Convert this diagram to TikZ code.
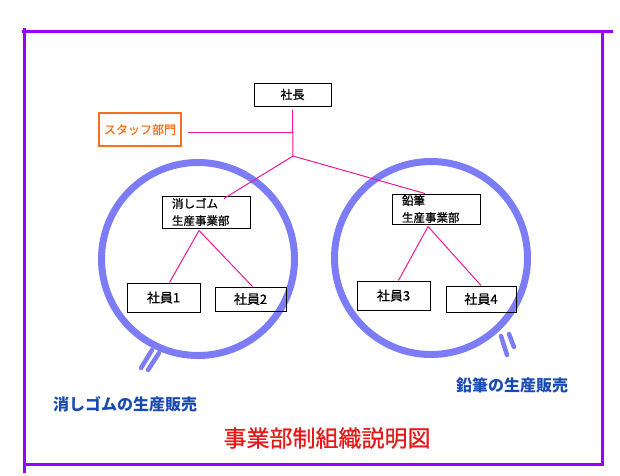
\documentclass[tikz,border=0pt]{standalone}
\usepackage{fontspec}
\setmainfont{Noto Sans CJK JP}
\newfontfamily\halbfett{Noto Sans CJK JP}[FakeBold=0.8]
\usetikzlibrary{positioning}

\definecolor{rahmenlila}{HTML}{9A00FF}
\definecolor{kreisblau}{HTML}{7C7CF6}
\definecolor{linienpink}{HTML}{EC1A94}
\definecolor{stabsorange}{HTML}{F2701E}
\definecolor{textblau}{HTML}{1A4BB0}
\definecolor{titelrot}{HTML}{E41A1A}

\begin{document}
\begin{tikzpicture}[x=1pt,y=-1pt,
		posten/.style={draw=black, line width=1pt, inner sep=0pt, font=\fontsize{12}{14}\selectfont\halbfett},
		abteilung/.style={posten, text width=68pt, inner xsep=10pt, align=left, font=\fontsize{11.5}{17}\selectfont\halbfett},
		verbindung/.style={draw=linienpink, line width=1pt},
		rahmen/.style={draw=rahmenlila, line width=3pt},
		ring/.style={draw=kreisblau, line width=7pt},
		griff/.style={draw=kreisblau, line width=4.5pt, line cap=round},
		bereich/.style={text=textblau, font=\fontsize{16}{18}\selectfont\bfseries}]
	\useasboundingbox (0,0) rectangle (620,475);

	% Rahmen
	\draw[rahmen] (22,31) -- (613,31);
	\draw[rahmen] (24,28) -- (24,473);
	\draw[rahmen] (602,31) -- (602,464);
	\draw[rahmen] (24,464) -- (604,464);

	% Kreise
	\draw[ring] (198,259) circle (96.5);
	\draw[ring] (431,258) circle (96.5);
	\draw[griff] (152,350) -- (141,368);
	\draw[griff] (159,353) -- (148,370);
	\draw[griff] (501,336) -- (507,355);
	\draw[griff] (509,334) -- (514,347);

	% Posten
	\node[posten, minimum width=77pt, minimum height=23pt] (chef) at (292.5,94.5) {社長};
	\node[posten, draw=stabsorange, text=stabsorange, line width=1.5pt, minimum width=82pt, minimum height=33pt,
		font=\fontsize{12}{14}\selectfont\halbfett] (stab) at (140,129.5) {スタッフ部門};
	\node[abteilung, minimum height=32pt] (radierer) at (206,212) {消しゴム\\生産事業部};
	\node[abteilung, minimum height=30pt] (bleistift) at (436,209) {鉛筆\\生産事業部};

	\node[posten, minimum width=73pt, minimum height=29pt, font=\fontsize{13}{15}\selectfont\halbfett] (ma1) at (163.5,297.5) {社員1};
	\node[posten, minimum width=71pt, minimum height=24pt, font=\fontsize{13}{15}\selectfont\halbfett] (ma2) at (250.5,299) {社員2};
	\node[posten, minimum width=73pt, minimum height=29pt, font=\fontsize{13}{15}\selectfont\halbfett] (ma3) at (393.5,295.5) {社員3};
	\node[posten, minimum width=70pt, minimum height=26pt, font=\fontsize{13}{15}\selectfont\halbfett] (ma4) at (481,299) {社員4};

	% Linien
	\coordinate (knoten) at (293,156);
	\draw[verbindung] ([yshift=-3pt]chef.south) -- (knoten);
	\draw[verbindung] ([xshift=6pt,yshift=-2.5pt]stab.east) -- ([yshift=-2.5pt]stab.east -| knoten);
	\draw[verbindung] (knoten) -- ([xshift=18pt,yshift=-3pt]radierer.north);
	\draw[verbindung] (knoten) -- ([xshift=-11pt]bleistift.north);

	\draw[verbindung] ([xshift=-7pt,yshift=-2pt]radierer.south) -- ([xshift=6pt]ma1.north);
	\draw[verbindung] ([xshift=-7pt,yshift=-2pt]radierer.south) -- ([xshift=2pt]ma2.north);
	\draw[verbindung] ([xshift=-8pt,yshift=-2pt]bleistift.south) -- ([xshift=5pt]ma3.north);
	\draw[verbindung] ([xshift=-8pt,yshift=-2pt]bleistift.south) -- (ma4.north);

	% Beschriftung
	\node[bereich] (links) at (125,404) {消しゴムの生産販売};
	\node[bereich] (rechts) at (512,385.5) {鉛筆の生産販売};
	\node[text=titelrot, font=\fontsize{23}{26}\selectfont\halbfett] (titel) at (327,438) {事業部制組織説明図};

\end{tikzpicture}
\end{document}
